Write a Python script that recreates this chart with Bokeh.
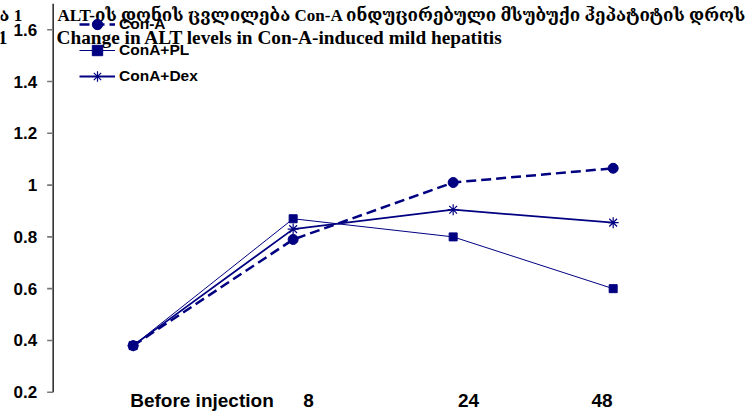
import math

from bokeh.plotting import figure
from bokeh.models import (Range1d, FixedTicker, NumeralTickFormatter, Legend,
                          LegendItem, Label, LinearAxis)
from bokeh.embed import file_html
from bokeh.resources import INLINE

# Time points (hours after Con-A injection) and ALT levels per group
timepoints = ["Before injection", "8", "24", "48"]
cona = [0.38, 0.79, 1.01, 1.065]
cona_pl = [0.38, 0.87, 0.80, 0.60]
cona_dex = [0.38, 0.83, 0.905, 0.855]
series_names = ["Con-A", "ConA+PL", "ConA+Dex"]
y_ticks = [0.2, 0.4, 0.6, 0.8, 1.0, 1.2, 1.4, 1.6]

title_ka = "ALT-ის დონის ცვლილება  Con-A  ინდუცირებული მსუბუქი ჰეპატიტის დროს"
title_en = "Change in ALT levels in Con-A-induced mild hepatitis"
caption_ka = "დიაგრამა  1"
caption_en = "Diagram 1"

x = list(range(len(timepoints)))
# horizontal placement of the category captions under the curves
label_x = [0.43, 1.096, 2.096, 2.93]

# value axis placement and extent
AXIS_X = -0.5
AXIS_TOP = 1.7

NAVY = "#000080"
SANS = "Liberation Sans"
SERIF = "'Liberation Serif', 'DejaVu Serif', serif"

# the plotting area spans the whole canvas; the value axis sits at x = -0.5
p = figure(width=749, height=414, output_backend="svg", toolbar_location=None,
           x_range=Range1d(-0.829, 3.852), y_range=Range1d(0.114, 1.713),
           min_border=0, x_axis_location=None, y_axis_location=None)
p.outline_line_color = None
p.xgrid.visible = False
p.ygrid.visible = False

# tick labels of the value axis
yaxis = LinearAxis(fixed_location=AXIS_X, bounds=(y_ticks[0], AXIS_TOP),
                   ticker=FixedTicker(ticks=y_ticks),
                   formatter=NumeralTickFormatter(format="0.[0]"))
yaxis.axis_line_color = None
yaxis.major_tick_line_color = None
yaxis.minor_tick_line_color = None
yaxis.major_tick_in = 0
yaxis.major_tick_out = 6
yaxis.major_label_standoff = 10
yaxis.major_label_text_font = SANS
yaxis.major_label_text_font_style = "bold"
yaxis.major_label_text_font_size = "17px"
yaxis.major_label_text_color = "black"
p.add_layout(yaxis, "left")

# axis rule and outward tick marks
p.line([AXIS_X, AXIS_X], [y_ticks[0], AXIS_TOP], line_color="black", line_width=1.3)
p.ray(x=[AXIS_X] * len(y_ticks), y=y_ticks, length=6, length_units="screen",
      angle=math.pi, line_color="#777777", line_width=1.6)

# category captions below the curves
for lx, t in zip(label_x, timepoints):
    p.add_layout(Label(x=lx, y=0.168, text=t, text_align="center",
                       text_baseline="middle", text_font=SANS,
                       text_font_style="bold", text_font_size="19px",
                       text_color="black"))

# title texts
for txt, tx, ty, align, size in [
        (caption_ka, -0.667, 1.655, "right", "17px"),
        (caption_en, -0.786, 1.570, "right", "19px"),
        (title_ka, -0.473, 1.655, "left", "17px"),
        (title_en, -0.479, 1.570, "left", "19.3px")]:
    p.add_layout(Label(x=tx, y=ty, text=txt, text_align=align,
                       text_baseline="middle", text_font=SERIF,
                       text_font_style="bold", text_font_size=size,
                       text_color="black"))

# series
l1 = p.line(x, cona, line_color=NAVY, line_width=2.5, line_dash="10 5")
m1 = p.scatter(x, cona, marker="circle", size=10, fill_color=NAVY, line_color=NAVY)
l2 = p.line(x, cona_pl, line_color=NAVY, line_width=1)
m2 = p.scatter(x, cona_pl, marker="square", size=8, fill_color=NAVY, line_color=NAVY)
l3 = p.line(x, cona_dex, line_color=NAVY, line_width=1.8)
m3 = p.scatter(x, cona_dex, marker="asterisk", size=11, fill_color=None,
               line_color=NAVY, line_width=1.2)

legend = Legend(items=[LegendItem(label=series_names[0], renderers=[l1, m1]),
                       LegendItem(label=series_names[1], renderers=[l2, m2]),
                       LegendItem(label=series_names[2], renderers=[l3, m3])],
                location=(79, 325), orientation="vertical")
legend.border_line_color = None
legend.background_fill_alpha = 0
legend.padding = 0
legend.margin = 0
legend.spacing = 0
legend.glyph_width = 36
legend.glyph_height = 26
legend.label_height = 26
legend.label_standoff = 4
legend.label_text_font = SANS
legend.label_text_font_style = "bold"
legend.label_text_font_size = "15.5px"
legend.label_text_color = "black"
legend.label_text_baseline = "middle"
p.add_layout(legend, "center")

open("out.html", "w").write(file_html(p, INLINE))
